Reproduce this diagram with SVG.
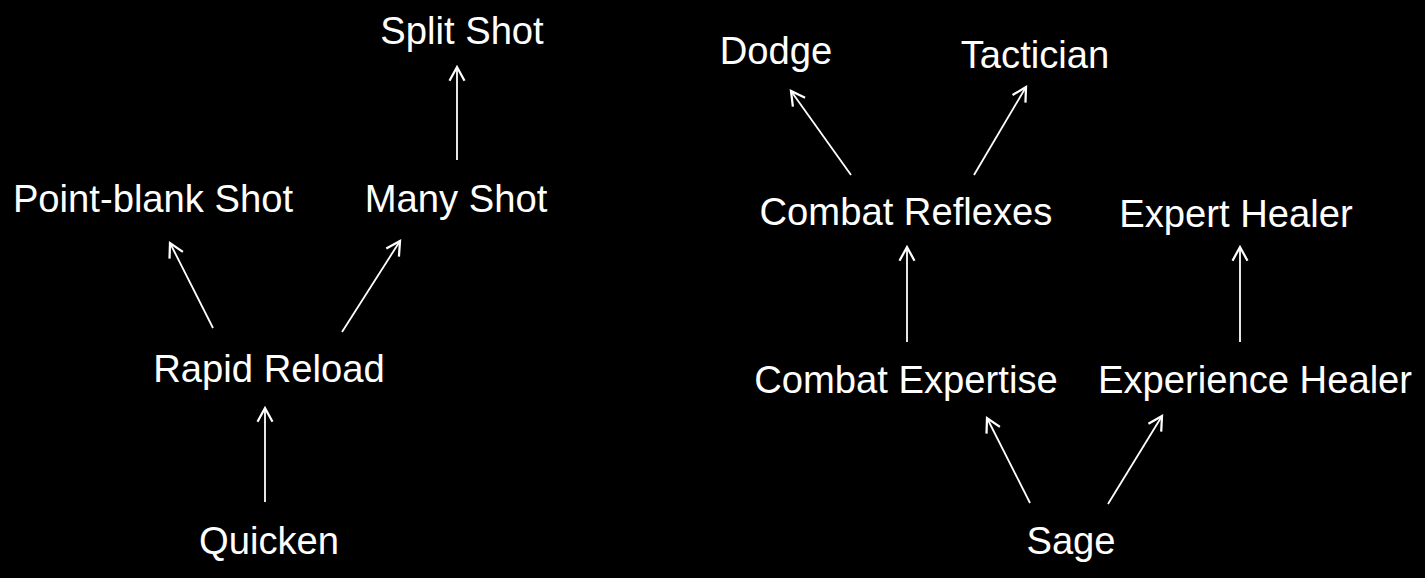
<svg xmlns="http://www.w3.org/2000/svg" width="1425" height="578" viewBox="0 0 1425 578">
<style>
.lbl{font-family:"Liberation Sans",Arial,sans-serif;font-size:38.2px;fill:#fff;text-anchor:middle}
.edge{stroke:#fff;stroke-width:1.8;fill:none;marker-end:url(#ah)}
</style>
<defs>
<marker id="ah" markerUnits="userSpaceOnUse" markerWidth="20" markerHeight="20" viewBox="-12 -8 14 16" refX="0" refY="0" orient="auto">
<path d="M-11,-6 L0,0 L-11,6" stroke="#fff" stroke-width="1.8" fill="none"/>
</marker>
</defs>
<rect width="1425" height="578" fill="#000"/>
<g id="connectors">
<line class="edge" x1="265" y1="502" x2="265" y2="408"/>
<line class="edge" x1="213" y1="328" x2="170" y2="243"/>
<line class="edge" x1="342" y1="332" x2="400" y2="241"/>
<line class="edge" x1="457" y1="160" x2="457" y2="67"/>
<line class="edge" x1="851" y1="175" x2="791" y2="91"/>
<line class="edge" x1="974" y1="175" x2="1026" y2="87"/>
<line class="edge" x1="907" y1="342" x2="907" y2="247"/>
<line class="edge" x1="1240" y1="342" x2="1240" y2="247"/>
<line class="edge" x1="1030" y1="503" x2="987" y2="418"/>
<line class="edge" x1="1108" y1="504" x2="1162" y2="416"/>
</g>
<g id="split-shot"><text class="lbl" x="462" y="44">Split Shot</text></g>
<g id="point-blank-shot"><text class="lbl" x="153" y="212">Point-blank Shot</text></g>
<g id="many-shot"><text class="lbl" x="456" y="212">Many Shot</text></g>
<g id="rapid-reload"><text class="lbl" x="269" y="382">Rapid Reload</text></g>
<g id="quicken"><text class="lbl" x="269" y="554">Quicken</text></g>
<g id="dodge"><text class="lbl" x="776" y="64">Dodge</text></g>
<g id="tactician"><text class="lbl" x="1035" y="68">Tactician</text></g>
<g id="combat-reflexes"><text class="lbl" x="906" y="225">Combat Reflexes</text></g>
<g id="expert-healer"><text class="lbl" x="1236" y="227">Expert Healer</text></g>
<g id="combat-expertise"><text class="lbl" x="906" y="393">Combat Expertise</text></g>
<g id="experience-healer"><text class="lbl" x="1255" y="393">Experience Healer</text></g>
<g id="sage"><text class="lbl" x="1071" y="554">Sage</text></g>
</svg>
